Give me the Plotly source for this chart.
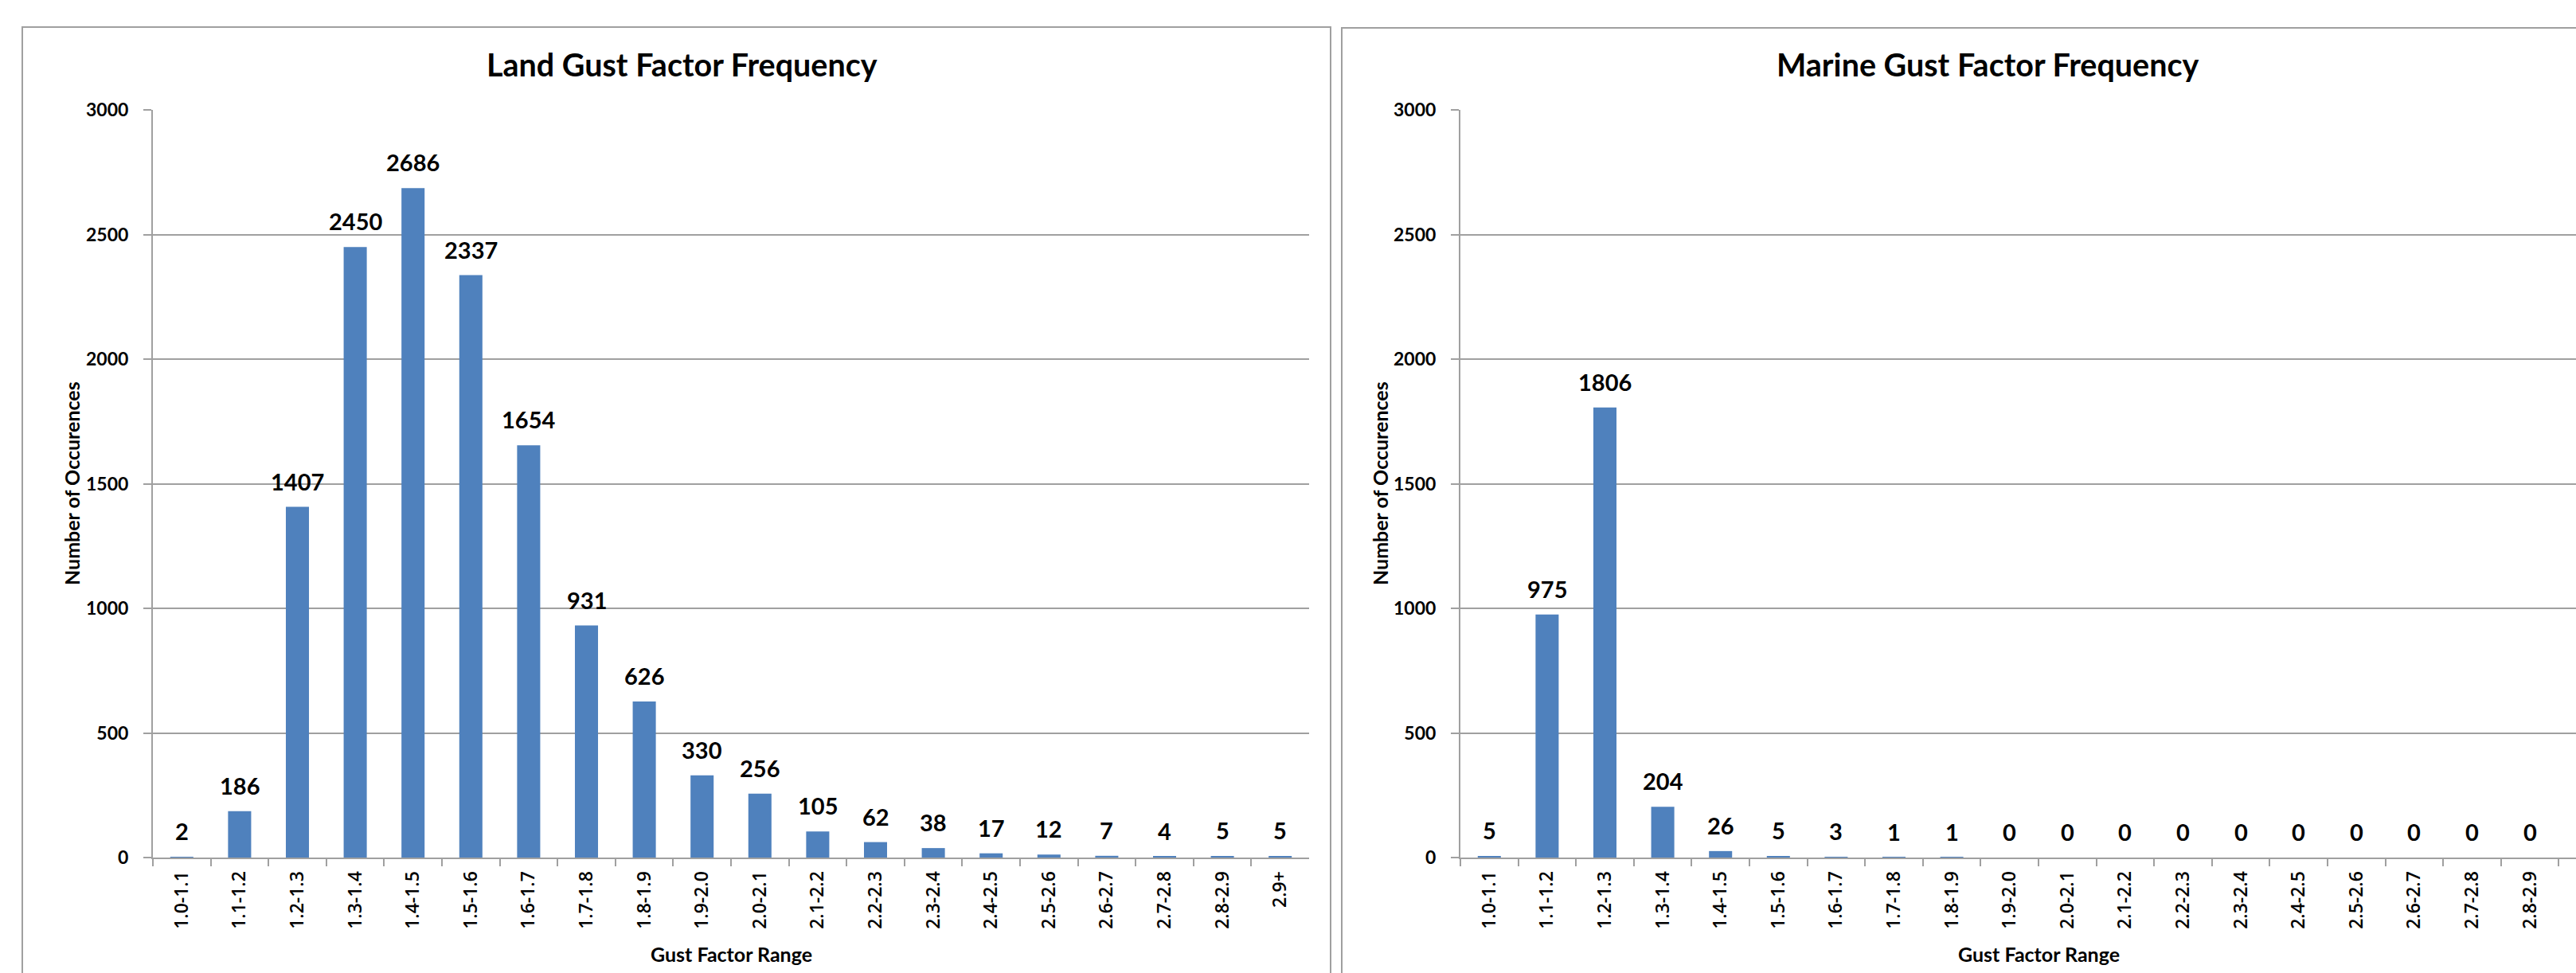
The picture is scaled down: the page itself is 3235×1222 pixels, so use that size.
import plotly.graph_objects as go

# Gust factor bins and occurrence counts
gust_ranges = ["1.0-1.1", "1.1-1.2", "1.2-1.3", "1.3-1.4", "1.4-1.5", "1.5-1.6",
               "1.6-1.7", "1.7-1.8", "1.8-1.9", "1.9-2.0", "2.0-2.1", "2.1-2.2",
               "2.2-2.3", "2.3-2.4", "2.4-2.5", "2.5-2.6", "2.6-2.7", "2.7-2.8",
               "2.8-2.9", "2.9+"]
land_counts = [2, 186, 1407, 2450, 2686, 2337, 1654, 931, 626, 330,
               256, 105, 62, 38, 17, 12, 7, 4, 5, 5]
marine_counts = [5, 975, 1806, 204, 26, 5, 3, 1, 1, 0,
                 0, 0, 0, 0, 0, 0, 0, 0, 0, 0]
y_ticks = [0, 500, 1000, 1500, 2000, 2500, 3000]

W, H = 3235, 1222


def px(x):
    return x / W


def py(y):
    return 1 - y / H


BAR_COLOR = "#4F81BD"
LINE = "#a0a0a0"
FONT = "Lato"

fig = go.Figure()
fig.add_trace(go.Bar(x=gust_ranges, y=land_counts, marker=dict(color=BAR_COLOR, line=dict(width=0)),
                     xaxis="x", yaxis="y"))
fig.add_trace(go.Bar(x=gust_ranges, y=marine_counts, marker=dict(color=BAR_COLOR, line=dict(width=0)),
                     xaxis="x2", yaxis="y2"))

# Category width in pixels, used to show only the part of the marine axis that fits
cat_w = (1644 - 192) / len(gust_ranges)
right_span = (W - 1834) / cat_w


def x_axis(domain, rng, anchor):
    return dict(
        type="category", categoryorder="array", categoryarray=gust_ranges,
        domain=domain, range=rng, anchor=anchor,
        tickangle=-90, tickson="boundaries", ticks="outside", ticklen=9,
        tickcolor=LINE, tickwidth=2, showline=True, linecolor=LINE, linewidth=2,
        showgrid=False, zeroline=False, automargin=False, ticklabelstandoff=6,
        tickfont=dict(family="Open Sans", size=23, color="black", weight=600),
    )


def y_axis(anchor):
    return dict(
        domain=[py(1077), py(138)], range=[0, 3000], anchor=anchor,
        tickmode="array", tickvals=y_ticks, ticks="outside", ticklen=10,
        tickcolor=LINE, tickwidth=2, showline=True, linecolor=LINE, linewidth=2,
        showgrid=True, gridcolor=LINE, gridwidth=2, zeroline=False,
        automargin=False, ticklabelstandoff=14,
        tickfont=dict(family=FONT, size=23, color="black", weight="bold"),
    )


annotations = []
# Value labels above each bar
for xr, yr, counts in (("x", "y", land_counts), ("x2", "y2", marine_counts)):
    for cat, val in zip(gust_ranges, counts):
        annotations.append(dict(
            x=cat, y=val, xref=xr, yref=yr, text=str(val), showarrow=False,
            yanchor="bottom", yshift=13,
            font=dict(family=FONT, size=29, color="black", weight="bold"),
        ))

title_font = dict(family=FONT, size=39.5, color="black", weight="bold")
axis_title_font = dict(family=FONT, size=25, color="black", weight="bold")

annotations += [
    dict(text="Land Gust Factor Frequency", x=px(856), y=py(80), xref="paper", yref="paper",
         showarrow=False, xanchor="center", yanchor="middle", font=title_font),
    dict(text="Marine Gust Factor Frequency", x=px(2496), y=py(80), xref="paper", yref="paper",
         showarrow=False, xanchor="center", yanchor="middle", font=title_font),
    dict(text="Number of Occurences", x=px(90), y=py(607), xref="paper", yref="paper",
         showarrow=False, textangle=-90, xanchor="center", yanchor="middle", font=axis_title_font),
    dict(text="Number of Occurences", x=px(1733), y=py(607), xref="paper", yref="paper",
         showarrow=False, textangle=-90, xanchor="center", yanchor="middle", font=axis_title_font),
    dict(text="Gust Factor Range", x=px(918), y=py(1198), xref="paper", yref="paper",
         showarrow=False, xanchor="center", yanchor="middle", font=axis_title_font),
    dict(text="Gust Factor Range", x=px(2560), y=py(1198), xref="paper", yref="paper",
         showarrow=False, xanchor="center", yanchor="middle", font=axis_title_font),
]

# Chart-area frames around each panel
shapes = [
    dict(type="rect", xref="paper", yref="paper", x0=px(28), x1=px(1671), y0=-0.1, y1=py(34),
         line=dict(color=LINE, width=2), fillcolor="rgba(0,0,0,0)", layer="below"),
    dict(type="rect", xref="paper", yref="paper", x0=px(1685), x1=1.2, y0=-0.1, y1=py(35),
         line=dict(color=LINE, width=2), fillcolor="rgba(0,0,0,0)", layer="below"),
]

fig.update_layout(
    width=W, height=H,
    margin=dict(l=0, r=0, t=0, b=0),
    paper_bgcolor="white", plot_bgcolor="white",
    showlegend=False, bargap=0.6,
    xaxis=x_axis([px(192), px(1644)], [-0.5, len(gust_ranges) - 0.5], "y"),
    yaxis=y_axis("x"),
    xaxis2=x_axis([px(1834), 1], [-0.5, -0.5 + right_span], "y2"),
    yaxis2=y_axis("x2"),
    annotations=annotations,
    shapes=shapes,
)

fig.write_html("out.html")
